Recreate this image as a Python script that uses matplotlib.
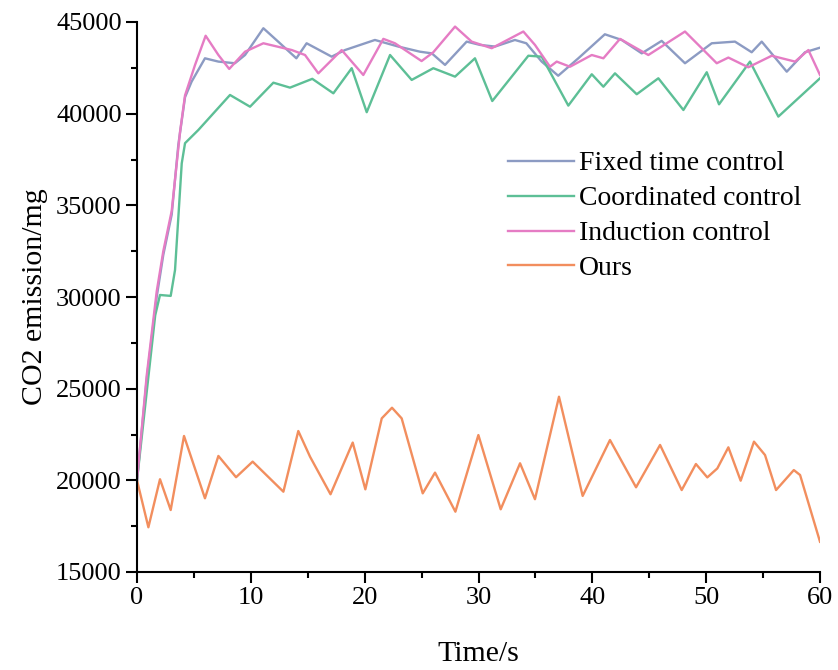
import matplotlib
matplotlib.use("Agg")
import matplotlib.pyplot as plt
from matplotlib.ticker import MultipleLocator

# ---- data ----
fixed_x = [0, 0.85, 1.73, 2.31, 3.05, 3.63, 4.22, 4.8, 5.97, 7.15, 8.6, 9.49, 11.1, 12.4, 14.0, 14.9,
           17.1, 18.27, 20.9, 22.96, 24.86, 25.9, 27.06, 28.96, 30.13, 31.45, 33.2, 34.2, 35.55, 37.0,
           38.77, 41.1, 42.58, 44.34, 46.09, 48.14, 50.49, 52.53, 54.0, 54.88, 57.08, 58.68, 60]
fixed_y = [20000, 25500, 30000, 32300, 34500, 38300, 40900, 41750, 43020, 42840, 42750, 43200, 44660,
           43930, 43020, 43840, 43110, 43470, 44020, 43660, 43380, 43290, 42660, 43930, 43750, 43660,
           44020, 43840, 42840, 42070, 43020, 44330, 44020, 43290, 43970, 42750, 43840, 43930, 43350,
           43930, 42290, 43350, 43600]

coord_x = [0, 0.85, 1.6, 2.02, 2.96, 3.34, 3.93, 4.22, 5.39, 8.17, 9.93, 11.98, 13.44, 15.4, 17.25,
           18.86, 20.18, 22.23, 24.13, 26.03, 27.94, 29.69, 31.21, 34.38, 35.55, 37.89, 39.95, 40.97,
           41.99, 43.9, 45.8, 48.0, 50.05, 51.13, 53.85, 56.34, 60]
coord_y = [20000, 24800, 29000, 30110, 30060, 31470, 37290, 38390, 39110, 41020, 40380, 41690, 41420,
           41900, 41110, 42480, 40080, 43200, 41840, 42480, 42020, 43020, 40690, 43160, 43110, 40440,
           42150, 41470, 42200, 41060, 41930, 40200, 42260, 40510, 42840, 39840, 41930]

induct_x = [0, 0.85, 1.73, 2.31, 3.05, 3.78, 4.22, 5.1, 6.03, 7.15, 8.1, 9.49, 11.1, 13.6, 14.76, 15.93,
            17.98, 19.88, 21.64, 22.66, 25.0, 26.03, 27.94, 29.4, 31.16, 33.94, 34.96, 36.28, 36.87,
            38.04, 39.95, 40.97, 42.43, 44.92, 48.14, 50.93, 51.95, 53.7, 55.76, 57.81, 58.98, 60]
induct_y = [20000, 25700, 30300, 32500, 34700, 39000, 41000, 42660, 44250, 43200, 42440, 43380, 43840,
            43470, 43200, 42200, 43470, 42110, 44080, 43840, 42870, 43350, 44750, 43930, 43570, 44480,
            43750, 42560, 42840, 42560, 43200, 43020, 44080, 43200, 44480, 42750, 43060, 42530, 43160,
            42840, 43470, 42110]

ours_x = [0, 1.0, 2.02, 2.96, 4.13, 5.97, 7.15, 8.7, 10.16, 12.86, 14.17, 15.2, 17.0, 18.95, 20.06,
          21.5, 22.4, 23.25, 25.1, 26.18, 27.97, 29.99, 31.95, 33.65, 34.96, 37.07, 39.15, 41.55,
          43.84, 45.95, 47.85, 49.1, 50.1, 50.98, 51.95, 53.03, 54.2, 55.17, 56.14, 57.7, 58.25, 60]
ours_y = [20000, 17440, 20060, 18380, 22420, 19020, 21330, 20170, 21020, 19380, 22690, 21290, 19240,
          22060, 19510, 23380, 23960, 23380, 19290, 20420, 18290, 22470, 18420, 20930, 18970, 24560,
          19150, 22200, 19620, 21930, 19470, 20890, 20160, 20650, 21800, 19980, 22110, 21380, 19470,
          20560, 20290, 16650]

labels = ["Fixed time control", "Coordinated control", "Induction control", "Ours"]
colors = ["#8C9BC3", "#5DBF96", "#E57CC4", "#F28E5E"]

# ---- figure ----
plt.rcParams['font.family'] = ['Liberation Serif', 'DejaVu Serif']
fig = plt.figure(figsize=(8.38, 6.70), dpi=100)
ax = fig.add_axes([137/838, 1-572/670, (820-137)/838, (572-22)/670])

series = [(fixed_x, fixed_y), (coord_x, coord_y), (induct_x, induct_y), (ours_x, ours_y)]
for (xs, ys), lab, col in zip(series, labels, colors):
    ax.plot(xs, ys, color=col, lw=1.7, label=lab, solid_joinstyle='round')

ax.set_xlim(0, 60)
ax.set_ylim(15000, 45000)
ax.xaxis.set_major_locator(MultipleLocator(10))
ax.xaxis.set_minor_locator(MultipleLocator(5))
ax.yaxis.set_major_locator(MultipleLocator(5000))
ax.yaxis.set_minor_locator(MultipleLocator(2500))

for s in ['top', 'right']:
    ax.spines[s].set_visible(False)
for s in ['left', 'bottom']:
    ax.spines[s].set_linewidth(1.5)

ax.tick_params(which='major', direction='out', length=8, width=1.5, labelsize=19, pad=3)
ax.tick_params(which='minor', direction='out', length=4, width=1.5)

ax.set_xlabel("Time/s", fontsize=21.5, labelpad=23)
ax.set_ylabel("CO2 emission/mg", fontsize=21.5, labelpad=6)

leg = fig.legend(loc='upper left', bbox_to_anchor=(508/838, 1-151/670), frameon=False,
                 fontsize=20, handlelength=2.36, handletextpad=0.2, labelspacing=0.34,
                 borderpad=0, borderaxespad=0)
for h in leg.get_lines():
    h.set_linewidth(1.7)

fig.savefig("out.png", dpi=100)
